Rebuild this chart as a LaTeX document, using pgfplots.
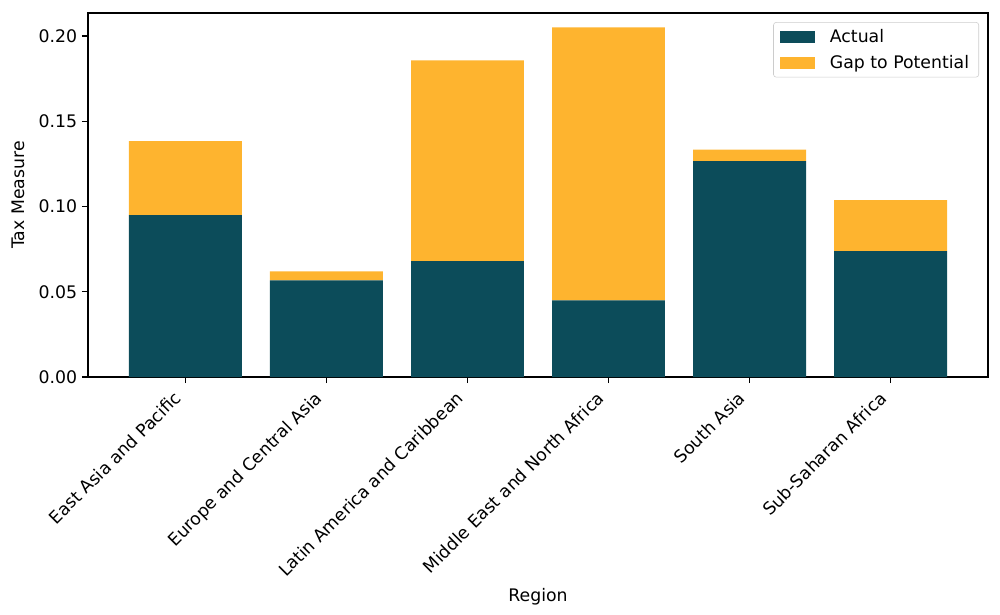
\documentclass[border=0pt]{standalone}
\usepackage{fontspec}
\setmainfont{DejaVu Sans}
\usepackage{pgfplots}
\pgfplotsset{compat=1.18}

\definecolor{actual}{HTML}{0C4C5A}
\definecolor{gap}{HTML}{FEB42F}
\definecolor{legframe}{HTML}{CCCCCC}

\begin{document}
\begin{tikzpicture}
\begin{axis}[
    scale only axis,
    width=9in, height=3.64in,
    ybar stacked,
    bar width=0.8,
    xmin=-0.69, xmax=5.69,
    ymin=0, ymax=0.2135,
    font=\fontsize{12.5}{15}\selectfont,
    /pgf/number format/assume math mode=true,
    xtick={0,1,2,3,4,5},
    xticklabels={East Asia and Pacific, Europe and Central Asia, Latin America and Caribbean, Middle East and North Africa, South Asia, Sub-Saharan Africa},
    xticklabel style={xshift=-9pt, yshift=-3.5pt, rotate=45, anchor=north east, inner sep=1pt},
    ytick={0,0.05,0.1,0.15,0.2},
    yticklabel style={/pgf/number format/.cd, fixed, fixed zerofill, precision=2},
    tick pos=left,
    tick align=outside,
    major tick length=4.4pt,
    tick style={black, line width=1pt},
    axis line style={black, line width=1pt},
    xlabel={Region},
    ylabel={Tax Measure},
    xlabel style={at={([yshift=-2.24in]axis description cs:0.5,0)}, anchor=base},
    ylabel style={at={([xshift=-0.63in]axis description cs:0,0.5)}, anchor=base, rotate=0},
    legend style={at={(0.99,0.975)}, anchor=north east, draw=legframe, rounded corners=2pt,
      row sep=3.6pt, inner xsep=5pt, inner ysep=3pt, font=\fontsize{12.5}{15}\selectfont,
      /tikz/every odd column/.append style={column sep=8.5pt}},
    legend cell align=left,
    legend image code/.code={\fill[#1, sharp corners] (0in,-0.06in) rectangle (0.35in,0.06in);},
]
\addplot[fill=actual, draw=none] coordinates {
    (0,0.0949) (1,0.0567) (2,0.0679) (3,0.0450) (4,0.1266) (5,0.0738)
};
\addplot[fill=gap, draw=none] coordinates {
    (0,0.0434) (1,0.0053) (2,0.1178) (3,0.1600) (4,0.0068) (5,0.0299)
};
\legend{Actual, Gap to Potential}
\end{axis}
\pgfresetboundingbox
\path ([shift={(-0.88in,-2.38in)}]current axis.south west) rectangle ([shift={(0.12in,0.13in)}]current axis.north east);
\end{tikzpicture}
\end{document}
